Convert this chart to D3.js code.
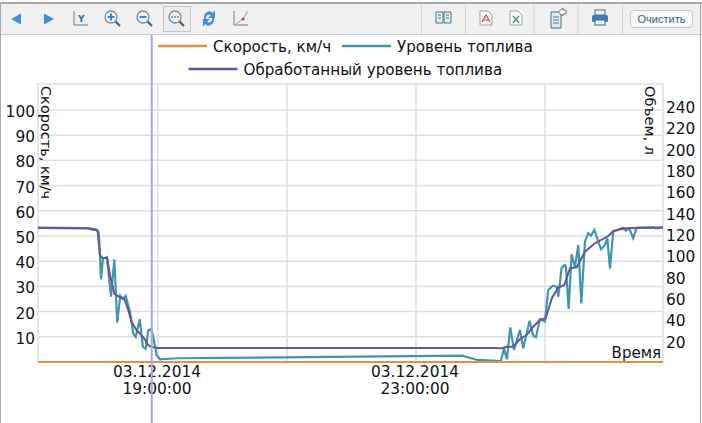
<!DOCTYPE html>
<html>
<head>
<meta charset="utf-8">
<script src="https://cdn.jsdelivr.net/npm/d3@7"></script>
<style>
html, body { margin: 0; padding: 0; background: #fff; overflow: hidden; }
svg { display: block; }
text { font-family: "DejaVu Sans", sans-serif; fill: #111; }
</style>
</head>
<body>
<svg id="chart" width="702" height="423"></svg>
<script>
// minutes are counted from 03.12.2014 19:00:00
var speedMinutes = [-111.6, 469.8];
var speedValues = [0, 0];

var levelMinutes = [-111.6, -65.1, -62.3, -60.5, -57.7, -55.8, -54.9, -54, -53, -51.2, -47.4, -43.7, -40.6, -37.9, -35.1, -32.8, -30, -26, -23, -20.7, -17, -14, -11.4, -9, -6.5, -4.7, -1.2, 1.9, 17.7, 282.8, 297.3, 319, 321.9, 324.6, 327.7, 331.2, 336.7, 339.8, 345.7, 349.1, 351.6, 355.3, 360, 363, 367.4, 370.9, 372.4, 375.5, 378.6, 379.5, 382, 384.8, 387.9, 391, 393.8, 397.2, 400.3, 402.8, 405.9, 412.1, 415.8, 418, 420.5, 423.5, 432.3, 435.3, 438.4, 442.1, 445.3, 460.5, 463.2, 469.8];
var levelValues = [126.1, 125.6, 124.2, 123.8, 124.2, 122.8, 119.1, 100.3, 77.5, 96.8, 98.4, 61.2, 96.3, 36.8, 61.9, 59.1, 61.9, 46.9, 26.5, 23.4, 40, 14.1, 12.5, 29.7, 30.7, 25, 6.3, 2.5, 3.5, 5.9, 1.9, 0.9, 12.8, 2.5, 32.5, 11.3, 30, 12.8, 38.7, 24.4, 23.2, 40, 37.8, 67.5, 71.5, 70.6, 61.2, 88.4, 90.9, 89.3, 49.7, 101, 89.3, 109.7, 55, 112.8, 120.7, 118.4, 123.8, 105.7, 109.7, 116, 87.8, 122.2, 125.9, 123.1, 125.3, 116, 125.9, 126.3, 125.3, 126.3];

var smoothMinutes = [-111.6, -62.3, -57.7, -56.1, -54, -51.8, -47.4, -44.6, -40.6, -36.9, -31.3, -27.6, -24.5, -19.8, -13.7, -9, -5.9, 0.3, 313.5, 319.7, 324.4, 330.5, 336.7, 342.9, 349.1, 355.3, 360.6, 366.5, 372.4, 378, 383.2, 389.5, 397.2, 406.5, 418.9, 423.5, 434.4, 469.8];
var smoothValues = [125.6, 125.2, 123.8, 122.5, 100, 97.8, 97.5, 81.3, 64, 61.6, 59.3, 48.5, 37.5, 29.7, 23.4, 15.7, 14.1, 13.1, 13.1, 13, 14.3, 14.3, 21.3, 25.3, 33.1, 39.4, 41, 60, 69.8, 72.2, 87.8, 88.8, 103.4, 111.3, 118.1, 122.8, 125.3, 126.1];

var speedTicks = [10, 20, 30, 40, 50, 60, 70, 80, 90, 100];
var volumeTicks = [20, 40, 60, 80, 100, 120, 140, 160, 180, 200, 220, 240];
var gridMinutes = [0, 120, 240, 360];
var timeTicks = [0, 240];
var timeLabels = [['03.12.2014', '19:00:00'], ['03.12.2014', '23:00:00']];
var cursorMinute = -5.8;

var legendRows = [
    [['Скорость, км/ч', '#e58f45'], ['Уровень топлива', '#3f97ae']],
    [['Обработанный уровень топлива', '#66559b']]
];

var svg = d3.select('#chart');
var left = 38, right = 663, top_ = 84, bottom = 362;

var x = d3.scaleLinear().domain([-111.6, 469.8]).range([left, right]);
var ySpeed = d3.scaleLinear().domain([0, 110.3]).range([bottom, top_]);
var yVolume = d3.scaleLinear().domain([0, 260.6]).range([bottom, top_]);

// frame of the plot and the grid
var grid = svg.append('g').attr('stroke', '#dedede').attr('stroke-width', 1.5);
grid.append('rect')
    .attr('x', left).attr('y', top_)
    .attr('width', right - left).attr('height', bottom - top_)
    .attr('fill', 'none');
grid.selectAll('.h').data(speedTicks).enter().append('line')
    .attr('x1', left).attr('x2', right)
    .attr('y1', d => ySpeed(d)).attr('y2', d => ySpeed(d));
grid.selectAll('.v').data(gridMinutes).enter().append('line')
    .attr('x1', d => x(d)).attr('x2', d => x(d))
    .attr('y1', top_).attr('y2', bottom);

function cleanAxis(g) {
    g.select('.domain').remove();
    g.selectAll('.tick line').remove();
    g.selectAll('text').attr('font-family', null).style('font-size', '15.4px');
}

svg.append('g')
    .attr('transform', 'translate(' + left + ',1.5)')
    .call(d3.axisLeft(ySpeed).tickValues(speedTicks).tickSize(0).tickPadding(3))
    .call(cleanAxis);

svg.append('g')
    .attr('transform', 'translate(' + right + ',1.5)')
    .call(d3.axisRight(yVolume).tickValues(volumeTicks).tickSize(0).tickPadding(3))
    .call(cleanAxis);

var timeAxis = svg.append('g')
    .attr('transform', 'translate(0,' + bottom + ')')
    .call(d3.axisBottom(x).tickValues(timeTicks).tickSize(0).tickFormat(''))
    .call(cleanAxis);
timeAxis.selectAll('.tick text').each(function(d, i) {
    var t = d3.select(this).text(null).attr('y', 0).attr('dy', null);
    timeLabels[i].forEach((s, k) => {
        t.append('tspan').attr('x', -1.5).attr('y', 15 + k * 17).text(s);
    });
});

// axis titles
function sideTitle(px, py, s) {
    svg.append('text')
        .attr('transform', 'translate(' + px + ',' + py + ') rotate(90)')
        .style('font-size', '14.5px')
        .text(s);
}
sideTitle(41, 86, 'Скорость, км/ч');
sideTitle(645, 86, 'Объем, л');

svg.append('text')
    .attr('x', 661).attr('y', 358)
    .attr('text-anchor', 'end')
    .style('font-size', '15px')
    .text('Время');

// series
var line = d3.line().x(d => x(d[0])).y(d => yVolume(d[1]));

svg.append('path')
    .datum(d3.zip(levelMinutes, levelValues))
    .attr('d', line)
    .attr('fill', 'none')
    .attr('stroke', '#3f97ae')
    .attr('stroke-width', 2.2);

svg.append('path')
    .datum(d3.zip(smoothMinutes, smoothValues))
    .attr('d', line)
    .attr('fill', 'none')
    .attr('stroke', '#66559b')
    .attr('stroke-width', 2);

svg.append('path')
    .datum(d3.zip(speedMinutes, speedValues))
    .attr('d', d3.line().x(d => x(d[0])).y(d => ySpeed(d[1])))
    .attr('fill', 'none')
    .attr('stroke', '#e58f45')
    .attr('stroke-width', 2);

// legend
var legend = svg.append('g').style('font-size', '15.15px');
var legendLayout = [[[158, 46], [342, 46]], [[188.5, 69]]];
legendRows.forEach((row, r) => {
    row.forEach((item, c) => {
        var p = legendLayout[r][c];
        legend.append('line')
            .attr('x1', p[0]).attr('x2', p[0] + 49)
            .attr('y1', p[1]).attr('y2', p[1])
            .attr('stroke', item[1]).attr('stroke-width', 2.5);
        legend.append('text')
            .attr('x', p[0] + 55).attr('y', p[1] + 5.5)
            .text(item[0]);
    });
});

// toolbar
var bar = svg.append('g');
bar.append('rect').attr('x', 0).attr('y', 3).attr('width', 702).attr('height', 31).attr('fill', '#f0f0f0');
bar.append('rect').attr('x', 0).attr('y', 2).attr('width', 702).attr('height', 2).attr('fill', '#a8a8a8');
bar.append('rect').attr('x', 0).attr('y', 34).attr('width', 702).attr('height', 1).attr('fill', '#cfcfcf');

[421.5, 465.5, 534, 578, 622.5].forEach(sx => {
    bar.append('line').attr('x1', sx).attr('x2', sx).attr('y1', 4).attr('y2', 34).attr('stroke', '#d4d4d4');
});

var blue = '#3f8fd6';
bar.append('path').attr('d', 'M11,19L21,13.5V24.5Z').attr('fill', blue);
bar.append('path').attr('d', 'M44,13.5L54,19L44,24.5Z').attr('fill', blue);

// Y axis button
bar.append('path').attr('d', 'M74,11V25H88').attr('fill', 'none').attr('stroke', '#777').attr('stroke-width', 1);
bar.append('text').attr('x', 78).attr('y', 22).style('font-size', '9px').style('font-weight', 'bold').style('fill', '#2f6fa8').text('Y');

function lens(cx, cy, sign) {
    var g = bar.append('g').attr('transform', 'translate(' + cx + ',' + cy + ')');
    g.append('line').attr('x1', 4).attr('y1', 4).attr('x2', 9).attr('y2', 9).attr('stroke', '#555').attr('stroke-width', 2.2);
    g.append('circle').attr('r', 6).attr('fill', '#eef3f7').attr('stroke', '#7d8b94').attr('stroke-width', 1.3);
    if (sign === 'more') {
        [-3, 0, 3].forEach(d => g.append('circle').attr('cx', d).attr('r', 0.9).attr('fill', '#2f7fc0'));
        return;
    }
    g.append('line').attr('x1', -3.5).attr('x2', 3.5).attr('stroke', '#2f7fc0').attr('stroke-width', 1.8);
    if (sign === 'plus') g.append('line').attr('y1', -3.5).attr('y2', 3.5).attr('stroke', '#2f7fc0').attr('stroke-width', 1.8);
}
lens(111, 17, 'plus');
lens(143, 17, 'minus');
bar.append('rect').attr('x', 163.5).attr('y', 6.5).attr('width', 27).attr('height', 25).attr('fill', '#ececec').attr('stroke', '#c4c4c4');
lens(175, 17, 'more');

// refresh
bar.append('path').attr('d', 'M204,19A5.5,6.5 0 0 1 213,13L215,10V18H208L211,15.5A3,3 0 0 0 207,20Z').attr('fill', blue);
bar.append('path').attr('d', 'M214,18A5.5,6.5 0 0 1 205,24L203,27V19H210L207,21.5A3,3 0 0 0 211,17Z').attr('fill', blue);

// chart button
bar.append('path').attr('d', 'M234,11V25H248').attr('fill', 'none').attr('stroke', '#777');
bar.append('path').attr('d', 'M236,24L243,19L248,11').attr('fill', 'none').attr('stroke', '#7aa6c2');
bar.append('circle').attr('cx', 243).attr('cy', 19).attr('r', 1.5).attr('fill', '#d8344a');

// book
bar.append('path').attr('d', 'M436,12H443V23H436ZM444,12H451V23H444Z').attr('fill', '#dff0f7').attr('stroke', '#4b7388');
bar.append('path').attr('d', 'M438,15H441M438,18H441M446,15H449M446,18H449').attr('stroke', '#4b7388');

function sheet(px) {
    bar.append('path').attr('d', 'M' + px + ',11H' + (px + 8) + 'L' + (px + 12) + ',15V25H' + px + 'Z').attr('fill', '#f7f7f7').attr('stroke', '#9aa5ad');
}
sheet(480);
bar.append('path').attr('d', 'M482,22L486,15L490,22M483,20H489').attr('fill', 'none').attr('stroke', '#d04a3c').attr('stroke-width', 1.2);
sheet(510);
bar.append('path').attr('d', 'M513,16L519,23M519,16L513,23').attr('stroke', '#3f9a7e').attr('stroke-width', 1.4);

// export
bar.append('path').attr('d', 'M551,12H561V28H551Z').attr('fill', '#dcebf3').attr('stroke', '#4b7388');
bar.append('path').attr('d', 'M553,17H559M553,20H559M553,23H559').attr('stroke', '#4b7388');
bar.append('path').attr('d', 'M558,12L563,8V10H566V14H563V16Z').attr('fill', '#f4f4f4').attr('stroke', '#777');

// print
bar.append('rect').attr('x', 595).attr('y', 10).attr('width', 10).attr('height', 5).attr('fill', '#f5f5f5').attr('stroke', '#3d6f96');
bar.append('rect').attr('x', 592).attr('y', 15).attr('width', 16).attr('height', 7).attr('rx', 1.5).attr('fill', '#3f7fb0');
bar.append('rect').attr('x', 595).attr('y', 20).attr('width', 10).attr('height', 5).attr('fill', '#f5f5f5').attr('stroke', '#3d6f96');

// clear button
bar.append('rect').attr('x', 630.5).attr('y', 10.5).attr('width', 62).attr('height', 17).attr('rx', 3).attr('fill', '#f7f7f7').attr('stroke', '#c6c6c6');
bar.append('text')
    .attr('x', 661.5).attr('y', 23)
    .attr('text-anchor', 'middle')
    .style('font-family', '"Liberation Sans", sans-serif')
    .style('font-size', '11px')
    .style('fill', '#47617a')
    .text('Очистить');

// page edges
svg.append('line').attr('x1', 0.5).attr('x2', 0.5).attr('y1', 2).attr('y2', 423).attr('stroke', '#a8a8a8');
svg.append('line').attr('x1', 700.5).attr('x2', 700.5).attr('y1', 2).attr('y2', 423).attr('stroke', '#a8a8a8');

// cursor
svg.append('line')
    .attr('x1', x(cursorMinute)).attr('x2', x(cursorMinute))
    .attr('y1', 35).attr('y2', 423)
    .attr('stroke', '#a9a7e0')
    .attr('stroke-width', 2);
</script>
</body>
</html>
